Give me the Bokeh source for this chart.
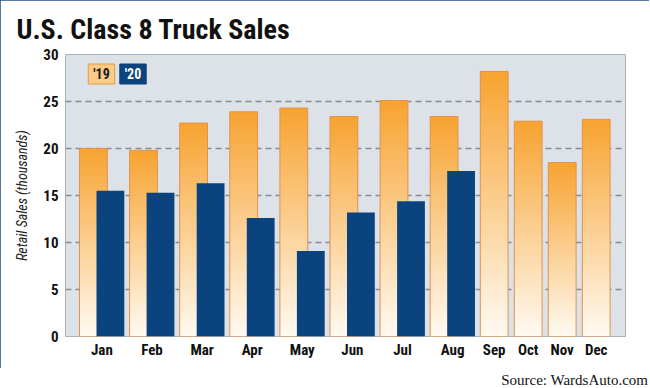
import numpy as np
from bokeh.plotting import figure
from bokeh.layouts import column
from bokeh.models import FixedTicker, Label, Range1d, Title, Div
from bokeh.embed import file_html
from bokeh.resources import INLINE

# ---------------- data ----------------
months = ["Jan", "Feb", "Mar", "Apr", "May", "Jun", "Jul", "Aug", "Sep", "Oct", "Nov", "Dec"]
sales_2019 = [20.0, 19.8, 22.7, 23.9, 24.3, 23.4, 25.1, 23.4, 28.2, 22.9, 18.5, 23.1]
sales_2020 = [15.5, 15.3, 16.3, 12.6, 9.1, 13.2, 14.4, 17.6]   # Jan-Aug
y_ticks = [0, 5, 10, 15, 20, 25, 30]
legend_labels = ["'19", "'20"]
title_text = "U.S. Class 8 Truck Sales"
y_label = "Retail Sales (thousands)"
source_text = "Source: WardsAuto.com"

# ---------------- styles / layout ----------------
NARROW = "'Roboto Condensed', 'Liberation Sans Narrow', 'DejaVu Sans Condensed', sans-serif"
SERIF = "'Liberation Serif', 'DejaVu Serif', serif"
BLUE = "#0B437F"
ORANGE_TOP = np.array([247, 163, 48])
ORANGE_BOT = np.array([255, 250, 242])

BAR_W = 27.8
OFF_20 = 17.0
GAP_PAIR = 5.3
GAP_SINGLE = 6.2
X_START = 14.0
X_END = 560.0

x19, x20, centers = [], [], []
cursor = X_START
for i, m in enumerate(months):
    x19.append(cursor)
    if i < len(sales_2020):
        x20.append(cursor + OFF_20)
        centers.append(round(cursor + (OFF_20 + BAR_W) / 2, 2))
        cursor += OFF_20 + BAR_W + GAP_PAIR
    else:
        centers.append(round(cursor + BAR_W / 2, 2))
        cursor += BAR_W + GAP_SINGLE

p = figure(width=649, height=368,
           x_range=Range1d(0, X_END), y_range=Range1d(y_ticks[0], y_ticks[-1]),
           output_backend="svg", toolbar_location=None,
           min_border_left=65, min_border_right=24, min_border_top=54, min_border_bottom=32,
           background_fill_color="#DCE2E7", border_fill_color="white",
           outline_line_color="#A8B2BA", outline_line_width=1)
p.styles = {"outline": "3px solid #1D4F80", "outline-offset": "-3px"}

# gradient '19 bars (stacked slices)
N = 48
gl, gr, gb, gt, gc = [], [], [], [], []
for xs, v in zip(x19, sales_2019):
    for k in range(N):
        f = (k + 0.5) / N
        c = ORANGE_BOT + (ORANGE_TOP - ORANGE_BOT) * f
        gl.append(xs)
        gr.append(xs + BAR_W)
        gb.append(v * k / N)
        gt.append(min(v, v * (k + 1.4) / N))
        gc.append("#%02x%02x%02x" % tuple(int(round(t)) for t in c))
p.quad(left=gl, right=gr, bottom=gb, top=gt, fill_color=gc, line_color=None)
p.quad(left=x19, right=[x + BAR_W for x in x19], bottom=0, top=sales_2019,
       fill_color=None, line_color="#E3924A", line_width=1)

# '20 bars
p.quad(left=x20, right=[x + BAR_W for x in x20], bottom=0, top=sales_2020,
       fill_color=BLUE, line_color=None)

# axes
p.xaxis.ticker = FixedTicker(ticks=centers)
p.xaxis.major_label_overrides = {c: m for c, m in zip(centers, months)}
p.yaxis.ticker = FixedTicker(ticks=y_ticks)
for ax in (p.xaxis[0], p.yaxis[0]):
    ax.axis_line_color = None
    ax.major_tick_line_color = None
    ax.minor_tick_line_color = None
    ax.major_tick_out = 0
    ax.major_tick_in = 0
    ax.minor_tick_out = 0
    ax.major_label_text_font = NARROW
    ax.major_label_text_font_style = "bold"
    ax.major_label_text_font_size = "15px"
    ax.major_label_text_color = "#111111"
p.xaxis.major_label_standoff = 4
p.yaxis.major_label_standoff = 7
p.yaxis.axis_label = y_label
p.yaxis.axis_label_text_font = NARROW
p.yaxis.axis_label_text_font_style = "italic"
p.yaxis.axis_label_text_font_size = "14px"
p.yaxis.axis_label_text_color = "#222222"
p.yaxis.axis_label_standoff = 10

p.xgrid.grid_line_color = None
p.ygrid.ticker = FixedTicker(ticks=y_ticks[1:-1])
p.ygrid.grid_line_color = "#858C92"
p.ygrid.grid_line_dash = "6 4"
p.ygrid.grid_line_width = 1.5

# title (above panel)
p.add_layout(Title(text=title_text, align="left", offset=-49, standoff=14,
                   vertical_align="top",
                   text_font=NARROW, text_font_size="28px", text_font_style="bold",
                   text_color="#111111"), "above")

# legend boxes
p.add_layout(Label(x=36, y=262.5, x_units="screen", y_units="screen", text=legend_labels[0],
                   text_align="center", text_baseline="middle",
                   text_font=NARROW, text_font_size="14px", text_font_style="bold",
                   text_color="#1a1a1a", background_fill_color="#FCCB85",
                   border_line_color="#E39A4A", padding=(5, 2)))
p.add_layout(Label(x=67.5, y=262.5, x_units="screen", y_units="screen", text=legend_labels[1],
                   text_align="center", text_baseline="middle",
                   text_font=NARROW, text_font_size="14px", text_font_style="bold",
                   text_color="white", background_fill_color=BLUE,
                   border_line_color=BLUE, padding=(5, 2)))

# source (below the bordered chart)
src = Div(text=source_text, width=643, height=17,
          styles={"font-family": SERIF, "font-size": "15px", "text-align": "right",
                  "line-height": "15px", "color": "#111111"})

layout = column(p, src, spacing=0)
open("out.html", "w").write(file_html(layout, INLINE))
